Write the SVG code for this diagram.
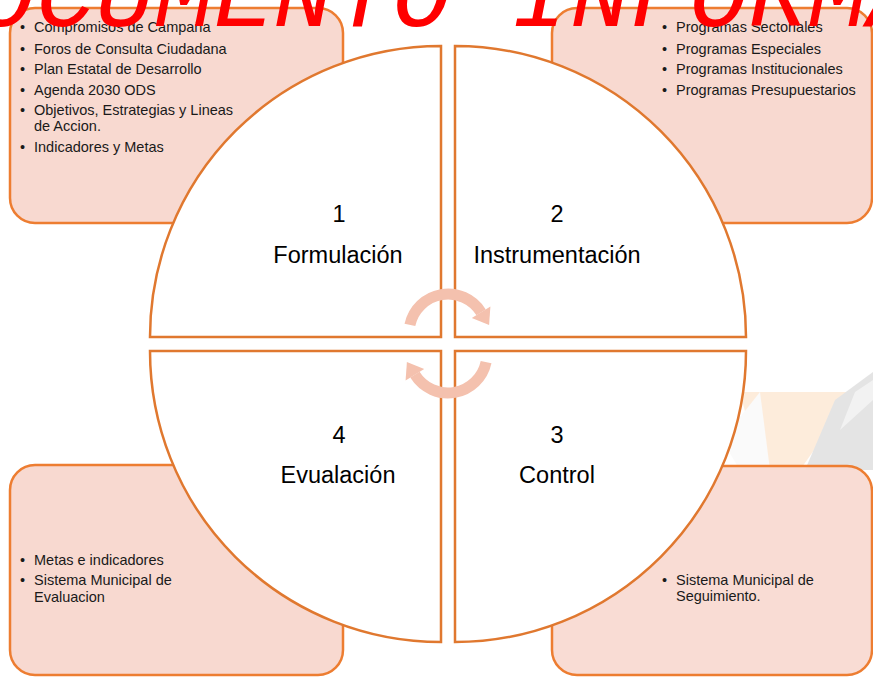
<svg xmlns="http://www.w3.org/2000/svg" width="873" height="677" viewBox="0 0 873 677">
<style>
.box{fill:#F8D9D0;stroke:#ED7D31;stroke-width:2.5}
.quad{fill:#FFFFFF;stroke:#E0782F;stroke-width:2.5}
.bt{font-family:"Liberation Sans",Arial,sans-serif;font-size:14.5px;fill:#1a1a1a}
.lb{font-family:"Liberation Sans",Arial,sans-serif;font-size:23.5px;fill:#000;text-anchor:middle}
.arr{fill:none;stroke:#F4C1AE;stroke-width:11}
.head{fill:#F4C1AE}
.wm{font-family:"Liberation Mono","Courier New",monospace;font-style:italic;font-size:99px;fill:#FF0000}
</style>
<rect width="873" height="677" fill="#FFFFFF"/>
<g id="background-photo" opacity="0.4">
  <polygon points="740,392 855,392 800,470 760,470" fill="#FCD2A8"/>
  <polygon points="722,440 760,392 770,470 740,470" fill="#F3F3F3"/>
  <polygon points="835,400 873,372 873,470 805,470" fill="#BDBDBD"/>
  <polygon points="855,392 873,380 873,400 840,430" fill="#E0E0E0"/>
</g>
<g id="box-formulacion">
  <rect class="box" x="10" y="8" width="333" height="215" rx="25"/>
  <text class="bt" x="20" y="32">•</text><text class="bt" x="34" y="32">Compromisos de Campaña</text>
  <text class="bt" x="20" y="54">•</text><text class="bt" x="34" y="54">Foros de Consulta Ciudadana</text>
  <text class="bt" x="20" y="74">•</text><text class="bt" x="34" y="74">Plan Estatal de Desarrollo</text>
  <text class="bt" x="20" y="95">•</text><text class="bt" x="34" y="95">Agenda 2030 ODS</text>
  <text class="bt" x="20" y="115">•</text><text class="bt" x="34" y="115">Objetivos, Estrategias y Lineas</text>
  <text class="bt" x="34" y="131">de Accion.</text>
  <text class="bt" x="20" y="152">•</text><text class="bt" x="34" y="152">Indicadores y Metas</text>
</g>
<g id="box-instrumentacion">
  <rect class="box" x="552" y="8" width="320" height="215" rx="25"/>
  <text class="bt" x="662" y="32">•</text><text class="bt" x="676" y="32">Programas Sectoriales</text>
  <text class="bt" x="662" y="54">•</text><text class="bt" x="676" y="54">Programas Especiales</text>
  <text class="bt" x="662" y="74">•</text><text class="bt" x="676" y="74">Programas Institucionales</text>
  <text class="bt" x="662" y="95">•</text><text class="bt" x="676" y="95">Programas Presupuestarios</text>
</g>
<g id="box-evaluacion">
  <rect class="box" x="10" y="465" width="333" height="210" rx="25"/>
  <text class="bt" x="20" y="565">•</text><text class="bt" x="34" y="565">Metas e indicadores</text>
  <text class="bt" x="20" y="585">•</text><text class="bt" x="34" y="585">Sistema Municipal de</text>
  <text class="bt" x="34" y="602">Evaluacion</text>
</g>
<g id="box-control">
  <rect class="box" x="552" y="466" width="320" height="209" rx="25" fill-opacity="0.92"/>
  <text class="bt" x="662" y="585">•</text><text class="bt" x="676" y="585">Sistema Municipal de</text>
  <text class="bt" x="676" y="601">Seguimiento.</text>
</g>
<g id="quad-1">
  <path class="quad" d="M441,337 L150,337 A291,291 0 0 1 441,46 Z"/>
  <text class="lb" x="339" y="222">1</text>
  <text class="lb" x="338" y="263">Formulación</text>
</g>
<g id="quad-2">
  <path class="quad" d="M455,337 L455,46 A291,291 0 0 1 746,337 Z"/>
  <text class="lb" x="557" y="222">2</text>
  <text class="lb" x="557" y="263">Instrumentación</text>
</g>
<g id="quad-3">
  <path class="quad" d="M455,351 L746,351 A291,291 0 0 1 455,642 Z"/>
  <text class="lb" x="557" y="443">3</text>
  <text class="lb" x="557" y="483">Control</text>
</g>
<g id="quad-4">
  <path class="quad" d="M441,351 L441,642 A291,291 0 0 1 150,351 Z"/>
  <text class="lb" x="339" y="443">4</text>
  <text class="lb" x="338" y="483">Evualación</text>
</g>
<g id="connectors">
  <path class="arr" d="M409.9,324.9 A39,39 0 0 1 481.1,312.3"/>
  <polygon class="head" points="490.4,306.5 471.8,318.1 489.1,325"/>
  <path class="arr" d="M486.1,362.1 A39,39 0 0 1 414.9,374.7"/>
  <polygon class="head" points="405.6,380.5 424.2,368.9 406.9,362"/>
</g>
<text class="wm" x="-83" y="26">DOCUMENTO INFORMA</text>
</svg>
